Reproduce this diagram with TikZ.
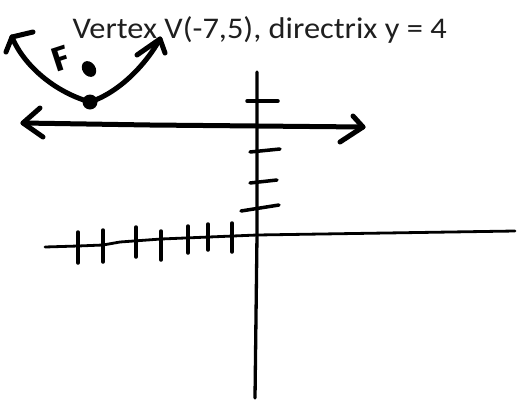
\documentclass[tikz,border=0pt]{standalone}
\usepackage{fontspec}
\setmainfont{Carlito}
\newfontfamily\handfont{Fira Sans}
\begin{document}
\begin{tikzpicture}[x=1pt,y=-1pt,
  ink/.style={black,line cap=round,line join=round},
  thick ink/.style={ink,line width=5pt},
  axis ink/.style={ink,line width=3.3pt},
  tick ink/.style={ink,line width=3.5pt}]
\useasboundingbox[fill=white] (0,0) rectangle (522,402);
% title
\node[anchor=base west,inner sep=0pt,text=black!88,xscale=1.08,font=\fontsize{30}{30}\selectfont] (title) at (72.5,38.5) {Vertex V(-7,5), directrix y = 4};
% parabola
\coordinate (V) at (90,102);
\coordinate (LT) at (12,37);
\coordinate (RT) at (160,39);
\draw[thick ink] (LT) .. controls (24,66) and (55,92) .. (V) .. controls (120,92) and (146,64) .. (RT);
\draw[thick ink] (33,32) -- (LT) -- (6,52);
\draw[thick ink] (137,55) -- (RT) -- (165,53);
\fill (V) circle (7.5);
\coordinate (Fdot) at (89,69);
\fill[rotate around={35:(Fdot)}] (Fdot) ellipse (6.5 and 8.5);
\node[rotate=18,font=\handfont\bfseries\fontsize{34}{34}\selectfont,inner sep=0pt] (F) at (61,59) {F};
% directrix
\coordinate (DL) at (23,123);
\coordinate (DR) at (363,127);
\draw[thick ink] (DL) -- (150,125) -- (257,126) -- (DR);
\draw[thick ink] (40,108) -- (DL) -- (43,137);
\draw[thick ink] (353,116) -- (DR) -- (340,142);
% y axis
\coordinate (YT) at (257,72);
\coordinate (O) at (257,235);
\coordinate (YB) at (255,398);
\draw[axis ink] (YT) -- (O) -- (YB);
\draw[tick ink] (247,101) -- (278,101);
\draw[tick ink] (250,152) -- (280,149);
\draw[tick ink] (250,183) -- (277,180);
\draw[tick ink] (241,211) -- (279,205);
% x axis
\coordinate (XL) at (45,247);
\coordinate (XR) at (515,231);
\draw[ink,line width=2.8pt] (XL) -- (78,246) -- (103,245) -- (120,242) -- (161,239) -- (O) -- (XR);
\foreach \x/\a/\b in {78/232/263,103/230/262,136/227/257,161/231/260,188/226/253,208/224/250,232/223/252}
  \draw[tick ink] (\x,\a) -- (\x,\b);
\end{tikzpicture}
\end{document}
